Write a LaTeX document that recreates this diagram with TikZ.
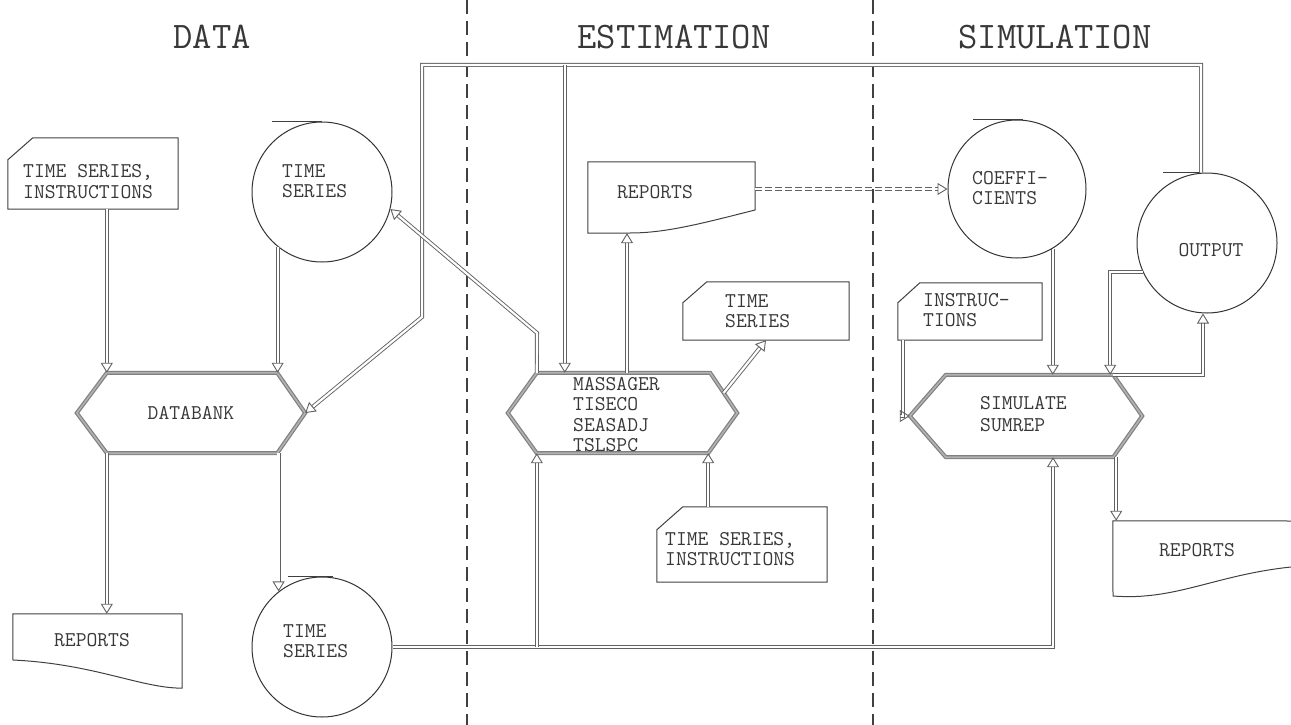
\documentclass[tikz,border=0pt]{standalone}
\usepackage{fontspec}
\usetikzlibrary{arrows.meta,calc}
\begin{document}
\begin{tikzpicture}[x=1pt,y=-1pt,
  title/.style={font=\ttfamily\fontsize{37.5}{40}\selectfont, text=black!78, inner sep=0},
  lbl/.style={font=\ttfamily\fontsize{21}{20.5}\selectfont, text=black!78, inner sep=0, align=left},
  geo/.style={draw=none, inner sep=0, minimum width=#1},
  tape/.style={circle, draw=black!80, line width=1pt, minimum size=140pt, inner sep=0},
  shapeline/.style={draw=black!75, line width=1pt, line join=miter},
  hexline/.style={draw=black!50, line width=1.2pt, double=black!30, double distance=1.6pt, line join=miter},
  divider/.style={draw=black!75, line width=1.3pt, dash pattern=on 14pt off 7pt},
  flow/.style={draw=black!62, line width=0.9pt, double=white, double distance=2.2pt},
  arr/.style={flow, -{Triangle[open, length=10pt, width=12pt, line width=0.9pt]}},
  darr/.style={arr, dash pattern=on 7pt off 3pt}
]
\useasboundingbox (0,0) rectangle (1291,725);

% section dividers and titles
\draw[divider] (467,0) -- (467,725);
\draw[divider] (873,0) -- (873,725);
\node[title] (tData) at (212,37) {DATA};
\node[title] (tEst) at (674,37) {ESTIMATION};
\node[title] (tSim) at (1055,37) {SIMULATION};

% ---------- geometry nodes ----------
\node[geo=170pt, minimum height=71pt] (card1) at (93,173.5) {};
\node[tape] (ts1) at (322,192) {};
\node[geo=228pt, minimum height=80pt] (db) at (191,413) {};
\node[geo=169pt, minimum height=74pt] (rep1) at (97.5,651) {};
\node[tape] (ts2) at (322,647) {};
\node[geo=167pt, minimum height=71pt] (rep2) at (671.5,197.5) {};
\node[geo=229pt, minimum height=80pt] (ms) at (622.5,413) {};
\node[geo=166pt, minimum height=58pt] (ts3) at (766,311) {};
\node[geo=170pt, minimum height=75pt] (ts4) at (742,544.5) {};
\node[tape, minimum size=138pt] (coef) at (1017,189) {};
\node[tape] (out) at (1207,243) {};
\node[geo=144pt, minimum height=57pt] (ins) at (970,311.5) {};
\node[geo=232pt, minimum height=82pt] (sim) at (1026,416) {};
\node[geo=178pt, minimum height=76pt] (rep3) at (1202,559) {};

% ---------- shape outlines ----------
% cards
\draw[shapeline] ([xshift=25pt]card1.north west) -- (card1.north east) -- (card1.south east) -- (card1.south west) -- ([yshift=-22pt]card1.north west) -- cycle;
\draw[shapeline] ([xshift=24pt]ts3.north west) -- (ts3.north east) -- (ts3.south east) -- (ts3.south west) -- ([yshift=-21pt]ts3.north west) -- cycle;
\draw[shapeline] ([xshift=26pt]ts4.north west) -- (ts4.north east) -- (ts4.south east) -- (ts4.south west) -- ([yshift=-23pt]ts4.north west) -- cycle;
\draw[shapeline] ([xshift=22pt]ins.north west) -- (ins.north east) -- (ins.south east) -- (ins.south west) -- ([yshift=-20pt]ins.north west) -- cycle;
% tape marks
\draw[shapeline] (ts1.north) -- ++(-50,0);
\draw[shapeline] ([xshift=11pt]ts2.north) -- ++(-45,0);
\draw[shapeline] ([xshift=6pt]coef.north) -- ++(-50,0);
\draw[shapeline] ([xshift=-6pt]out.north) -- ++(-38,0);
% documents
\draw[shapeline] (rep1.south west |- rep1.north) -- (rep1.north east) -- (rep1.south east)
  .. controls (140,688) and (95,664) .. (13,660) -- cycle;
\draw[shapeline] (rep2.north west) -- (rep2.north east) -- (755,210)
  .. controls (700,224) and (665,233) .. (630,233) -- (rep2.south west) -- cycle;
\draw[shapeline] (1291,521) -- (rep3.north west) -- (1113,596)
  .. controls (1175,601) and (1215,575) .. (1291,567);
% hexagons
\draw[hexline] ([xshift=30pt]db.north west) -- ([xshift=-28pt]db.north east) -- (db.east) -- ([xshift=-28pt]db.south east) -- ([xshift=30pt]db.south west) -- (db.west) -- cycle;
\draw[hexline] ([xshift=29pt]ms.north west) -- ([xshift=-27pt]ms.north east) -- (ms.east) -- ([xshift=-29pt]ms.south east) -- ([xshift=29pt]ms.south west) -- (ms.west) -- cycle;
\draw[hexline] ([xshift=36pt]sim.north west) -- ([xshift=-29pt]sim.north east) -- (sim.east) -- ([xshift=-29pt]sim.south east) -- ([xshift=36pt]sim.south west) -- (sim.west) -- cycle;

% ---------- texts ----------
\node[lbl, anchor=west] (card1t) at (23,181.5) {TIME SERIES,\\INSTRUCTIONS};
\node[lbl, anchor=west] (ts1t) at (282,181) {TIME\\SERIES};
\node[lbl] (dbt) at (191,413) {DATABANK};
\node[lbl] (rep1t) at (92,640) {REPORTS};
\node[lbl, anchor=west] (ts2t) at (283,641) {TIME\\SERIES};
\node[lbl] (rep2t) at (655,192) {REPORTS};
\node[lbl, anchor=west] (mst) at (573,414.5) {MASSAGER\\TISECO\\SEASADJ\\TSLSPC};
\node[lbl, anchor=west] (ts3t) at (725,311) {TIME\\SERIES};
\node[lbl, anchor=west] (ts4t) at (665,549) {TIME SERIES,\\INSTRUCTIONS};
\node[lbl, anchor=west] (coeft) at (972,188) {COEFFI-\\CIENTS};
\node[lbl] (outt) at (1211,250) {OUTPUT};
\node[lbl, anchor=west] (inst) at (923,310) {INSTRUC-\\TIONS};
\node[lbl, anchor=west] (simt) at (980,414) {SIMULATE\\[1.5pt]SUMREP};
\node[lbl] (rep3t) at (1197,550) {REPORTS};

% ---------- named connector points ----------
\coordinate (dbTL) at ([xshift=30pt]db.north west);
\coordinate (dbBL) at ([xshift=30pt]db.south west);
\coordinate (msTL) at ([xshift=29pt]ms.north west);
\coordinate (msBL) at ([xshift=29pt]ms.south west);
\coordinate (msBR) at ([xshift=-29pt]ms.south east);
\coordinate (msTin) at ([xshift=57pt]ms.north west);
\coordinate (msTop) at ([xshift=4.5pt]ms.north);
\coordinate (msR) at ($(ms.east)!0.5!([xshift=-27pt]ms.north east)$);
\coordinate (msBend) at (537,333);
\coordinate (simTR) at ([xshift=-29pt]sim.north east);
\coordinate (simBR) at ([xshift=-29pt]sim.south east);
\coordinate (simBin) at ([xshift=27pt]sim.south);
\coordinate (loopTL) at (422,65);
\coordinate (loopBend) at (422,317);
\coordinate (ts1out) at (ts1.231);
\coordinate (ts2in) at (ts2.128);
\coordinate (ts1in) at (ts1.-14);
\coordinate (coefout) at (coef.-59);
\coordinate (outL) at (out.204);
\coordinate (outB) at ([xshift=-4pt]out.south);
\coordinate (outT) at ([xshift=-6pt]out.north);
\coordinate (dbTR) at (ts1out |- db.north);
\coordinate (dbBR) at (ts2in |- db.south);
\coordinate (simTRin) at ([xshift=-3pt]simTR);

% ---------- connectors ----------
% data section
\draw[arr] (card1.south -| dbTL) -- (dbTL);
\draw[arr] (ts1out) -- (dbTR);
\draw[arr] (dbBL) -- (dbBL |- rep1.north);
\draw[arr] (dbBR) -- (ts2in);
% time series to estimation and simulation
\draw[arr] (ts2.east) -| (simBin);
\draw[arr] (ts2.east -| msBL) -- (msBL);
% feedback loop from output
\draw[arr] (outT) |- (loopTL) -- (loopBend) -- (db.east);
\draw[arr] (loopTL -| msTin) -- (msTin);
% estimation
\draw[arr] (msTL) -- (msBend) -- (ts1in);
\draw[arr] (msTop) -- (msTop |- rep2.south);
\draw[arr] (msR) -- (ts3.south);
\draw[arr] (ts4.north -| msBR) -- (msBR);
\draw[darr] (rep2.east |- coef.west) -- (coef.west);
% simulation
\draw[arr] (coefout) -- (coefout |- sim.north);
\draw[arr] (outL) -| (simTRin);
\draw[arr] (simTR) -| (outB);
\draw[arr] ([xshift=5pt]ins.south west) |- (sim.west);
\draw[arr] ([xshift=3pt]simBR) -- ([xshift=3pt]simBR |- rep3.north);
\end{tikzpicture}
\end{document}
